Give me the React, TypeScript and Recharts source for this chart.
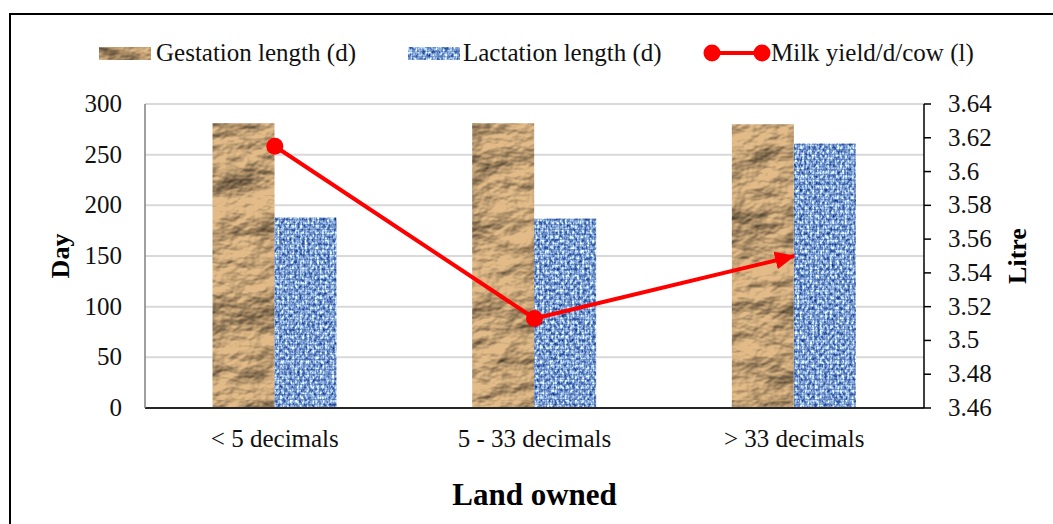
import React from 'react';
import { ComposedChart, Bar, Line, XAxis, YAxis, CartesianGrid, Legend } from 'recharts';

const categories = ['< 5 decimals', '5 - 33 decimals', '> 33 decimals'];
const gestationLength = [281, 281, 280];
const lactationLength = [188, 187, 261];
const milkYield = [3.615, 3.513, 3.55];
const dayTicks = [0, 50, 100, 150, 200, 250, 300];
const litreTicks = [3.46, 3.48, 3.5, 3.52, 3.54, 3.56, 3.58, 3.6, 3.62, 3.64];

const seriesNames = {
  gestation: 'Gestation length (d)',
  lactation: 'Lactation length (d)',
  milk: 'Milk yield/d/cow (l)',
};

const data = categories.map((c, i) => ({
  category: c,
  gestation: gestationLength[i],
  lactation: lactationLength[i],
  milk: milkYield[i],
}));

const SERIF = '"Liberation Serif", "Times New Roman", serif';
const W = 1053;
const H = 524;
const FS = 25;

const Defs = () => (
  <svg width={0} height={0} style={{ position: 'absolute', left: 0, top: 0 }}>
    <defs>
      <filter id="crumple" x="0" y="0" width="1" height="1" colorInterpolationFilters="sRGB">
        <feTurbulence type="fractalNoise" baseFrequency="0.014 0.022" numOctaves={5} seed={7} result="n" />
        <feDiffuseLighting in="n" surfaceScale={8} diffuseConstant={1} lightingColor="#ffffff" result="lit">
          <feDistantLight azimuth={235} elevation={45} />
        </feDiffuseLighting>
        <feComponentTransfer in="lit" result="shade">
          <feFuncR type="linear" slope={1.05} intercept={0.12} />
          <feFuncG type="linear" slope={1.05} intercept={0.12} />
          <feFuncB type="linear" slope={1.05} intercept={0.12} />
        </feComponentTransfer>
        <feFlood floodColor="#e2bb88" result="tan" />
        <feBlend in="shade" in2="tan" mode="multiply" />
      </filter>
      <pattern id="paperFill" patternUnits="userSpaceOnUse" x="0" y="0" width="400" height="400">
        <rect x="0" y="0" width="400" height="400" fill="#c9a57c" />
        <rect x="0" y="0" width="400" height="400" filter="url(#crumple)" />
      </pattern>
      <filter id="weaveNoise" x="0" y="0" width="1" height="1" colorInterpolationFilters="sRGB">
        <feTurbulence type="fractalNoise" baseFrequency="0.4 0.28" numOctaves={2} seed={11} />
        <feColorMatrix
          type="matrix"
          values="1.5 0 0 0 -0.2  1.4 0 0 0 -0.02  0.9 0 0 0 0.42  0 0 0 0 1"
        />
      </filter>
      <pattern id="weaveGrid" patternUnits="userSpaceOnUse" x="0" y="0" width="5" height="5">
        <path d="M0 4.5H5M4.5 0V5" stroke="#1a3a7a" strokeOpacity={0.28} strokeWidth={1} fill="none" />
      </pattern>
      <pattern id="weaveFill" patternUnits="userSpaceOnUse" x="0" y="0" width="400" height="400">
        <rect x="0" y="0" width="400" height="400" fill="#7495d3" />
        <rect x="0" y="0" width="400" height="400" filter="url(#weaveNoise)" />
        <rect x="0" y="0" width="400" height="400" fill="url(#weaveGrid)" />
      </pattern>
      <marker
        id="arrowHead"
        markerUnits="userSpaceOnUse"
        markerWidth={20}
        markerHeight={18}
        viewBox="0 0 20 18"
        refX={19}
        refY={9}
        orient="auto"
      >
        <path d="M0,0 L20,9 L0,18 z" fill="#ff0000" />
      </marker>
    </defs>
  </svg>
);

const LegendContent = () => (
  <div
    style={{
      position: 'relative',
      width: W,
      height: 28,
      fontFamily: SERIF,
      fontSize: FS,
      color: '#111',
    }}
  >
    <svg style={{ position: 'absolute', left: 99, top: 8 }} width={52} height={13}>
      <rect width={52} height={13} fill="url(#paperFill)" />
    </svg>
    <span style={{ position: 'absolute', left: 156, top: 0, lineHeight: '28px', whiteSpace: 'nowrap' }}>
      {seriesNames.gestation}
    </span>
    <svg style={{ position: 'absolute', left: 408, top: 8 }} width={52} height={13}>
      <rect width={52} height={13} fill="url(#weaveFill)" />
    </svg>
    <span style={{ position: 'absolute', left: 463, top: 0, lineHeight: '28px', whiteSpace: 'nowrap' }}>
      {seriesNames.lactation}
    </span>
    <svg style={{ position: 'absolute', left: 702, top: 4 }} width={70} height={20}>
      <line x1={10} y1={10} x2={60} y2={10} stroke="#ff0000" strokeWidth={4} />
      <circle cx={10} cy={10} r={8.5} fill="#ff0000" />
      <circle cx={60} cy={10} r={8.5} fill="#ff0000" />
    </svg>
    <span style={{ position: 'absolute', left: 771, top: 0, lineHeight: '28px', whiteSpace: 'nowrap' }}>
      {seriesNames.milk}
    </span>
  </div>
);

const renderDot = (props: any) => {
  const { cx, cy, index } = props;
  if (index === milkYield.length - 1 || cx == null || cy == null) {
    return <g key={`dot-${index}`} />;
  }
  return <circle key={`dot-${index}`} cx={cx} cy={cy} r={8.5} fill="#ff0000" stroke="none" />;
};

const makeTick = (anchor: 'start' | 'middle' | 'end', dy: number, fmt?: (v: any) => string) => (props: any) => {
  const { x, y, payload } = props;
  const v = payload ? payload.value : '';
  return (
    <text
      x={x}
      y={y}
      dy={dy}
      textAnchor={anchor}
      fontFamily={SERIF}
      fontSize={FS}
      fill="#111"
      style={{ fontFamily: SERIF }}
    >
      {fmt ? fmt(v) : String(v)}
    </text>
  );
};

const makeTitle = (text: string, dx: number) => (props: any) => {
  const vb = props.viewBox || {};
  const x = (vb.x || 0) + dx;
  const y = (vb.y || 0) + (vb.height || 0) / 2;
  return (
    <text
      x={x}
      y={y}
      transform={`rotate(-90 ${x} ${y})`}
      textAnchor="middle"
      dominantBaseline="central"
      fontFamily={SERIF}
      fontSize={26}
      fontWeight="bold"
      fill="#000"
      style={{ fontFamily: SERIF }}
    >
      {text}
    </text>
  );
};

const XTitle = (props: any) => {
  const vb = props.viewBox || {};
  const x = (vb.x || 0) + (vb.width || 0) / 2;
  return (
    <text
      x={x}
      y={505}
      textAnchor="middle"
      fontFamily={SERIF}
      fontSize={31}
      fontWeight="bold"
      fill="#000"
      style={{ fontFamily: SERIF }}
    >
      Land owned
    </text>
  );
};

const litreFmt = (v: number) => String(Number(Number(v).toFixed(2)));

export default function App() {
  return (
    <div
      style={{
        position: 'absolute',
        left: 0,
        top: 0,
        width: W,
        height: H,
        overflow: 'hidden',
        background: '#fff',
        fontFamily: SERIF,
      }}
    >
      <Defs />
      <div
        style={{
          position: 'absolute',
          left: 9,
          top: 13,
          width: W + 20,
          height: H + 20,
          border: '2px solid #000',
          boxSizing: 'border-box',
        }}
      />
      <div style={{ position: 'absolute', left: 0, top: 0 }}>
        <ComposedChart
          width={W}
          height={H}
          data={data}
          margin={{ top: 104, right: 0, bottom: 0, left: 0 }}
          barCategoryGap="26%"
          barGap={0}
        >
          <CartesianGrid horizontal vertical={false} stroke="#d9d9d9" strokeWidth={2} />
          <XAxis
            dataKey="category"
            height={116}
            tickLine={false}
            tickSize={0}
            tickMargin={22}
            axisLine={{ stroke: '#262626', strokeWidth: 2 }}
            tick={makeTick('middle', 17)}
            interval={0}
            label={<XTitle />}
          />
          <YAxis
            width={145}
            domain={[0, 300]}
            ticks={dayTicks}
            interval={0}
            tickLine={false}
            tickSize={0}
            tickMargin={23}
            axisLine={{ stroke: '#7f7f7f', strokeWidth: 1.5 }}
            tick={makeTick('end', 8)}
            label={makeTitle('Day', 60)}
          />
          <YAxis
            yAxisId="right"
            orientation="right"
            width={129}
            domain={[3.46, 3.64]}
            ticks={litreTicks}
            interval={0}
            allowDataOverflow
            tickSize={7}
            tickMargin={17}
            tickLine={{ stroke: '#000', strokeWidth: 1.5 }}
            axisLine={{ stroke: '#000', strokeWidth: 1.5 }}
            tick={makeTick('start', 8, litreFmt)}
            label={makeTitle('Litre', 93)}
          />
          <Legend
            layout="horizontal"
            align="center"
            verticalAlign="middle"
            wrapperStyle={{ top: 39, left: 0, width: W, height: 28 }}
            content={<LegendContent />}
          />
          <Bar dataKey="gestation" name={seriesNames.gestation} fill="url(#paperFill)" isAnimationActive={false} />
          <Bar dataKey="lactation" name={seriesNames.lactation} fill="url(#weaveFill)" isAnimationActive={false} />
          <Line
            yAxisId="right"
            dataKey="milk"
            name={seriesNames.milk}
            type="linear"
            stroke="#ff0000"
            strokeWidth={4}
            dot={renderDot}
            activeDot={false}
            markerEnd="url(#arrowHead)"
            isAnimationActive={false}
          />
        </ComposedChart>
      </div>
    </div>
  );
}
